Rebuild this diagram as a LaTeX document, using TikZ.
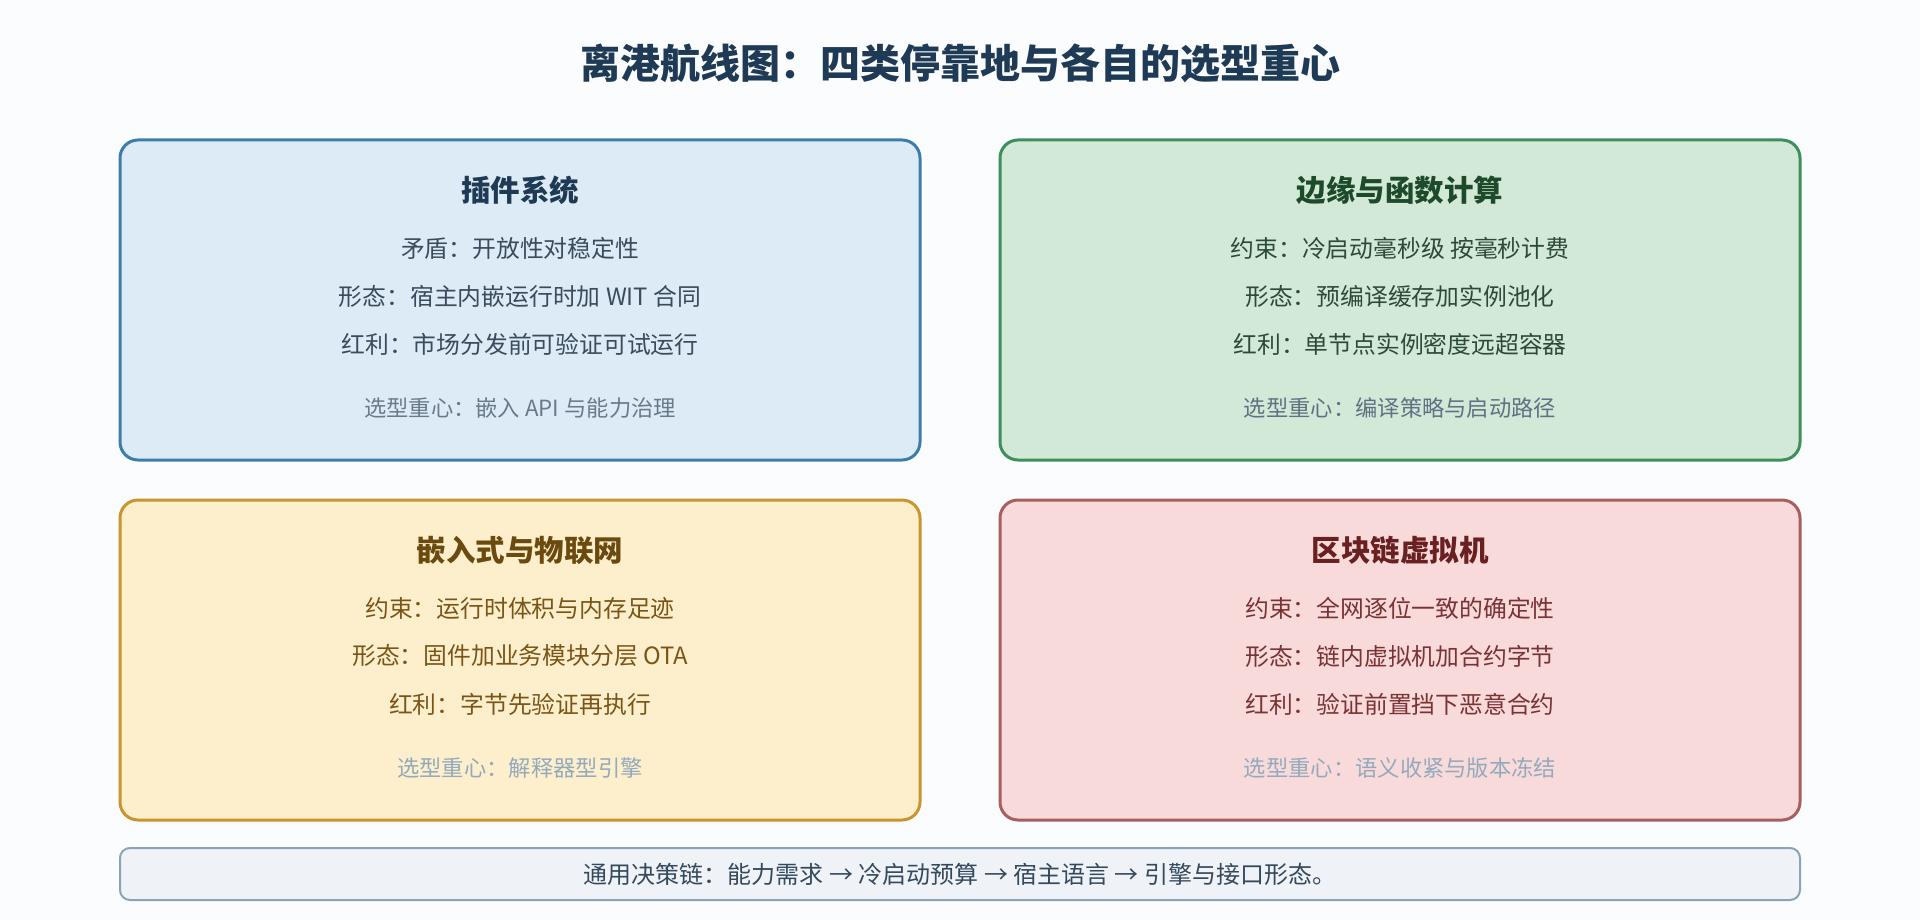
\documentclass[tikz,border=0pt]{standalone}
\usepackage{fontspec}
\setmainfont{Noto Sans CJK SC}
\definecolor{bg}{HTML}{FBFCFD}
\definecolor{headc}{HTML}{1E3A55}
\definecolor{fA}{HTML}{DDEBF7}\definecolor{dA}{HTML}{3E7DA8}\definecolor{hA}{HTML}{1E3A55}\definecolor{tA}{HTML}{3B4B5C}\definecolor{gA}{HTML}{6B7A8A}
\definecolor{fB}{HTML}{D2E9D7}\definecolor{dB}{HTML}{3F8F5E}\definecolor{hB}{HTML}{1E4A2C}\definecolor{tB}{HTML}{2D4A37}\definecolor{gB}{HTML}{5F7183}
\definecolor{fC}{HTML}{FEEFCC}\definecolor{dC}{HTML}{C8952E}\definecolor{hC}{HTML}{6A4A0E}\definecolor{tC}{HTML}{7A5517}\definecolor{gC}{HTML}{93A9BC}
\definecolor{fD}{HTML}{F8DADB}\definecolor{dD}{HTML}{A85F5F}\definecolor{hD}{HTML}{6A2020}\definecolor{tD}{HTML}{7A3232}\definecolor{gD}{HTML}{94AABC}
\definecolor{fE}{HTML}{EFF3F7}\definecolor{dE}{HTML}{8CA3B7}\definecolor{tE}{HTML}{34495E}
\begin{document}
\begin{tikzpicture}[x=1pt,y=-1pt,
  card/.style={draw, line width=3pt, rounded corners=18pt, minimum width=800pt, minimum height=320pt, inner sep=0pt},
  ttl/.style={inner sep=0pt, font=\fontsize{29.5}{34}\selectfont\bfseries},
  ln/.style={inner sep=0pt, font=\fontsize{23.8}{28}\selectfont},
  foc/.style={inner sep=0pt, font=\fontsize{22.3}{26}\selectfont},
  bar/.style={draw=dE, fill=fE, line width=2pt, rounded corners=10pt, minimum width=1680pt, minimum height=52pt, inner sep=0pt}]
\useasboundingbox (0,0) rectangle (1920,920);
\fill[bg] (0,0) rectangle (1920,920);
\node[inner sep=0pt, text=headc, font=\fontsize{40}{46}\selectfont\bfseries] (head) at (960,63) {离港航线图：四类停靠地与各自的选型重心};
% card A
\node[card, draw=dA, fill=fA] (cA) at (520,300) {};
\node[ttl, text=hA] (cAt) at (520,190) {插件系统};
\node[ln, text=tA] (cA1) at (520,248) {矛盾：开放性对稳定性};
\node[ln, text=tA] (cA2) at (520,296) {形态：宿主内嵌运行时加 WIT 合同};
\node[ln, text=tA] (cA3) at (520,344) {红利：市场分发前可验证可试运行};
\node[foc, text=gA] (cAf) at (520,408) {选型重心：嵌入 API 与能力治理};
% card B
\node[card, draw=dB, fill=fB] (cB) at (1400,300) {};
\node[ttl, text=hB] (cBt) at (1400,190) {边缘与函数计算};
\node[ln, text=tB] (cB1) at (1400,248) {约束：冷启动毫秒级 按毫秒计费};
\node[ln, text=tB] (cB2) at (1400,296) {形态：预编译缓存加实例池化};
\node[ln, text=tB] (cB3) at (1400,344) {红利：单节点实例密度远超容器};
\node[foc, text=gB] (cBf) at (1400,408) {选型重心：编译策略与启动路径};
% card C
\node[card, draw=dC, fill=fC] (cC) at (520,660) {};
\node[ttl, text=hC] (cCt) at (520,550) {嵌入式与物联网};
\node[ln, text=tC] (cC1) at (520,608) {约束：运行时体积与内存足迹};
\node[ln, text=tC] (cC2) at (520,656) {形态：固件加业务模块分层 OTA};
\node[ln, text=tC] (cC3) at (520,704) {红利：字节先验证再执行};
\node[foc, text=gC] (cCf) at (520,768) {选型重心：解释器型引擎};
% card D
\node[card, draw=dD, fill=fD] (cD) at (1400,660) {};
\node[ttl, text=hD] (cDt) at (1400,550) {区块链虚拟机};
\node[ln, text=tD] (cD1) at (1400,608) {约束：全网逐位一致的确定性};
\node[ln, text=tD] (cD2) at (1400,656) {形态：链内虚拟机加合约字节};
\node[ln, text=tD] (cD3) at (1400,704) {红利：验证前置挡下恶意合约};
\node[foc, text=gD] (cDf) at (1400,768) {选型重心：语义收紧与版本冻结};
% bottom bar
\node[bar] (bar) at (960,874) {};
\node[inner sep=0pt, text=tE, font=\fontsize{24}{28}\selectfont] (barT) at (960,874) {通用决策链：能力需求 → 冷启动预算 → 宿主语言 → 引擎与接口形态。};
\end{tikzpicture}
\end{document}
